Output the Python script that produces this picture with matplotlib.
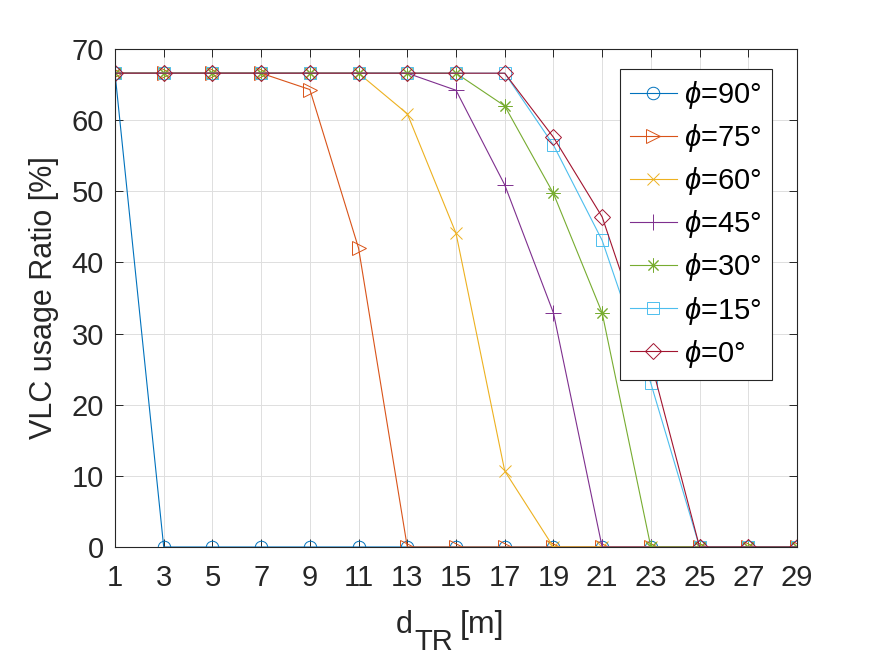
import numpy as np
import matplotlib
matplotlib.use("Agg")
import matplotlib.pyplot as plt

plt.rcParams['font.family'] = ['Liberation Sans', 'DejaVu Sans']
plt.rcParams['mathtext.fontset'] = 'custom'
plt.rcParams['mathtext.rm'] = 'Liberation Sans'
plt.rcParams['mathtext.it'] = 'Liberation Sans:italic'

d_tr = np.arange(1, 30, 2)

phi_90 = [66.6, 0, 0, 0, 0, 0, 0, 0, 0, 0, 0, 0, 0, 0, 0]
phi_75 = [66.6, 66.6, 66.6, 66.6, 64.3, 42.0, 0, 0, 0, 0, 0, 0, 0, 0, 0]
phi_60 = [66.6, 66.6, 66.6, 66.6, 66.6, 66.6, 60.9, 44.1, 10.7, 0, 0, 0, 0, 0, 0]
phi_45 = [66.6, 66.6, 66.6, 66.6, 66.6, 66.6, 66.6, 64.2, 50.9, 32.9, 0, 0, 0, 0, 0]
phi_30 = [66.6, 66.6, 66.6, 66.6, 66.6, 66.6, 66.6, 66.6, 62.0, 49.7, 32.9, 0, 0, 0, 0]
phi_15 = [66.6, 66.6, 66.6, 66.6, 66.6, 66.6, 66.6, 66.6, 66.6, 56.5, 43.1, 23.0, 0, 0, 0]
phi_0 = [66.6, 66.6, 66.6, 66.6, 66.6, 66.6, 66.6, 66.6, 66.6, 57.6, 46.4, 26.1, 0, 0, 0]

labels = [r'$\phi$=90°', r'$\phi$=75°', r'$\phi$=60°', r'$\phi$=45°',
          r'$\phi$=30°', r'$\phi$=15°', r'$\phi$=0°']
series = [phi_90, phi_75, phi_60, phi_45, phi_30, phi_15, phi_0]
colors = ['#0072BD', '#D95319', '#EDB120', '#7E2F8E', '#77AC30', '#4DBEEE', '#A2142F']
markers = ['o', '>', 'x', '+', (8, 2, 0), 's', 'D']
sizes = [9, 10, 8, 11, 10, 8, 8]

fig = plt.figure(figsize=(8.75, 6.56), dpi=100)
ax = fig.add_axes([115 / 875, 1 - 547 / 656, 682 / 875, 498 / 656])

for y, lab, c, m, s in zip(series, labels, colors, markers, sizes):
    ax.plot(d_tr, y, color=c, marker=m, markersize=s, markerfacecolor='none',
            markeredgecolor=c, markeredgewidth=0.7, linewidth=0.8, label=lab)

ax.set_xlim(1, 29)
ax.set_ylim(0, 70)
ax.set_xticks(d_tr)
ax.set_yticks(np.arange(0, 71, 10))
ax.grid(True, color='#dedede', linewidth=0.7)
ax.set_axisbelow(True)
ax.tick_params(direction='in', top=True, right=True, length=6, width=0.7,
               labelsize=21, colors='#262626')
ax.tick_params(axis='x', pad=12)
ax.tick_params(axis='y', pad=8)
for sp in ax.spines.values():
    sp.set_linewidth(0.8)
    sp.set_color('#262626')

# x label: d with a large subscript TR
fig.text(396 / 875, 1 - 633 / 656, 'd', fontsize=22, color='#262626', va='baseline')
fig.text(414 / 875, 1 - 650 / 656, 'TR', fontsize=21, color='#262626', va='baseline')
fig.text(460 / 875, 1 - 633 / 656, '[m]', fontsize=23, color='#262626', va='baseline')
ax.set_ylabel('VLC usage Ratio [%]', fontsize=22, color='#262626', labelpad=9)

leg = ax.legend(loc='upper right', bbox_to_anchor=(0.963, 0.96), borderaxespad=0,
                fontsize=21, handlelength=1.6, handletextpad=0.25, labelspacing=0.38,
                borderpad=0.35, fancybox=False, framealpha=1, edgecolor='#262626')
leg.get_frame().set_linewidth(0.8)

fig.savefig('out.png', dpi=100)
